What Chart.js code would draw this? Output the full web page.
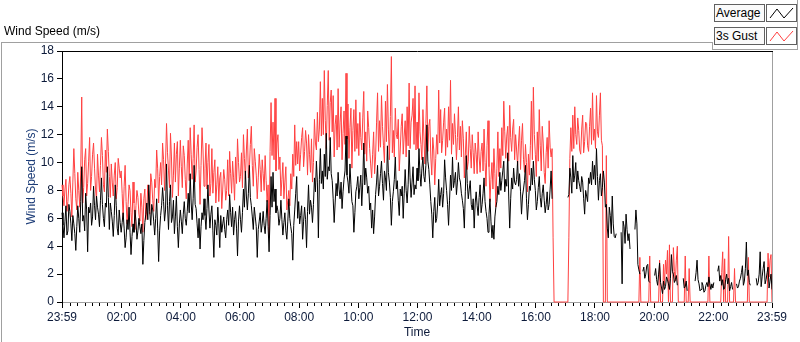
<!DOCTYPE html>
<html>
<head>
<meta charset="utf-8">
<script src="https://cdn.jsdelivr.net/npm/chart.js@4.4.1/dist/chart.umd.min.js"></script>
<style>
  html, body { margin: 0; padding: 0; background: #fff; }
  #wrap { position: relative; width: 800px; height: 342px; overflow: hidden;
          font-family: "Liberation Sans", Arial, sans-serif; color: #000; }
  #chart { position: absolute; left: 0; top: 0; }
  .graph-title { position: absolute; left: 4px; top: 24px; font-size: 12px; }
  .line { position: absolute; background: #a0a0a0; }
  .leg-text { position: absolute; left: 714px; width: 48px; height: 16px; border: 1px solid #606060;
              background: #fafafa; font-size: 12px; line-height: 16px; padding-left: 1px; }
  .leg-icon { position: absolute; left: 766px; width: 29px; height: 16px; border: 1px solid #606060; background: #fff; }
  .leg-icon svg { position: absolute; left: 0; top: 0; }
</style>
</head>
<body>
<div id="wrap">
  <canvas id="chart" width="800" height="342"></canvas>
  <div class="graph-title">Wind Speed (m/s)</div>
  <div class="line" style="left:1px; top:42px; width:711px; height:1px;"></div>
  <div class="line" style="left:1px; top:42px; width:1px; height:300px;"></div>
  <div class="line" style="left:712px; top:42px; width:1px; height:8px;"></div>
  <div class="line" style="left:712px; top:49px; width:86px; height:1px;"></div>
  <div class="line" style="left:797px; top:0px; width:1px; height:50px;"></div>
  <div class="leg-text" style="top:4px;">Average</div>
  <div class="leg-icon" style="top:4px;">
    <svg width="29" height="16"><polyline points="3,13 10,4 17,13 26,3" fill="none" stroke="#000" stroke-width="1"/></svg>
  </div>
  <div class="leg-text" style="top:27px;">3s Gust</div>
  <div class="leg-icon" style="top:27px;">
    <svg width="29" height="16"><polyline points="3,13 10,4 17,13 26,3" fill="none" stroke="#ff4040" stroke-width="1"/></svg>
  </div>
</div>
<script>
(function () {
  'use strict';

  // one sample every 2 minutes, starting at 23:59 (one row = 2 hours)
  var SAMPLE_MINUTES = 2;

  var avgSpeed = [
    6.4,5.5,4.6,5.8,6.9,4.8,5.1,7.0,6.5,5.6,4.4,6.2,5.6,4.9,3.7,5.4,6.9,6.0,5.0,7.2,9.7,5.8,6.2,5.1,7.8,6.6,3.6,6.8,6.4,7.1,
    5.5,6.1,8.3,6.9,5.9,7.6,6.8,6.3,5.4,7.3,8.9,7.0,6.0,5.4,7.1,6.8,9.7,7.5,5.2,7.1,6.5,5.8,4.7,6.2,8.4,6.9,5.3,4.8,6.6,5.7,
    5.0,5.7,6.4,5.3,3.9,4.6,5.9,5.2,6.8,5.0,3.4,4.7,5.6,5.0,6.6,5.8,4.5,5.1,6.0,5.4,4.9,5.6,2.7,4.4,5.7,6.3,7.1,5.9,8.4,6.5,
    5.5,7.0,6.6,5.8,4.8,6.0,7.4,5.3,2.9,5.1,6.2,6.9,8.2,7.2,5.8,6.6,9.9,6.9,5.2,7.2,8.4,5.7,6.1,7.3,4.9,6.1,7.6,5.4,3.9,5.6,
    6.6,5.8,4.9,6.3,7.2,6.0,5.5,6.5,7.8,6.4,9.2,7.1,5.9,7.4,9.8,7.0,6.7,5.6,4.6,6.0,3.8,5.4,6.4,5.9,7.4,6.2,5.2,6.7,8.4,6.6,
    5.3,6.3,6.9,5.1,3.2,5.9,5.5,4.8,6.8,5.6,3.9,6.2,5.0,5.6,6.1,5.2,4.6,5.9,6.6,5.5,7.7,6.4,5.4,6.8,4.8,5.9,6.5,5.3,3.3,5.8,
    6.9,5.9,5.0,6.4,8.1,6.8,9.4,7.6,6.6,7.8,9.8,7.5,6.9,6.1,5.2,6.8,6.1,5.4,3.2,5.2,5.8,6.4,5.0,5.6,6.5,5.5,4.9,6.0,7.3,5.4,
    3.6,6.2,9.0,6.8,9.3,7.2,8.1,6.4,6.9,6.5,5.5,6.0,7.3,5.9,4.8,5.7,6.4,5.1,4.5,5.8,7.4,6.0,5.4,4.9,3.0,5.5,6.6,7.8,9.0,6.0,
    7.2,5.6,6.2,6.9,4.5,5.8,6.8,5.9,3.9,6.5,8.4,6.3,7.3,6.8,5.7,7.0,8.9,7.9,10.1,8.6,4.6,8.8,11.0,8.5,9.4,8.1,10.6,9.0,12.1,8.8,
    9.7,9.4,11.8,9.2,8.7,7.4,5.7,7.1,8.5,7.6,9.3,8.1,7.4,8.6,6.7,7.9,8.8,9.4,11.9,9.1,8.6,7.8,9.9,8.4,7.2,6.9,5.0,6.4,7.9,8.3,
    9.0,7.4,8.2,9.1,6.9,8.6,11.4,8.4,9.6,8.9,7.8,8.3,6.6,7.1,5.3,6.6,4.9,6.1,7.7,8.6,9.8,7.6,8.3,9.2,10.1,8.5,7.3,9.4,8.9,8.0,
    11.2,9.3,8.6,7.5,5.5,7.2,7.9,8.8,10.4,8.1,8.7,7.3,6.2,8.1,7.6,8.3,6.0,7.8,9.5,8.0,7.1,8.4,10.9,8.9,7.5,8.6,9.7,7.7,8.4,8.1,
    9.6,8.7,11.0,9.2,8.3,9.6,10.4,9.0,8.6,9.8,12.7,10.1,9.5,8.4,7.2,6.3,4.6,6.5,7.5,5.7,6.0,7.1,8.8,6.9,7.7,8.2,6.8,7.8,10.2,8.9,
    8.0,7.0,5.5,7.3,9.1,8.0,10.4,8.2,8.7,9.3,7.7,8.6,10.0,8.9,8.6,7.8,7.3,6.7,5.3,7.9,10.5,8.5,7.4,8.1,8.7,7.0,6.6,7.4,5.3,7.1,
    7.9,6.9,6.2,7.5,8.4,6.4,7.0,7.8,8.9,7.2,6.5,6.0,5.0,6.3,7.4,5.8,4.6,5.5,4.5,6.1,6.8,7.2,8.3,7.7,9.3,8.0,8.7,9.4,10.1,7.9,
    8.8,8.3,10.7,7.6,5.3,7.4,8.9,8.1,9.6,8.6,8.4,8.8,10.1,8.3,9.2,7.9,6.3,7.6,8.1,8.7,9.8,7.4,5.9,7.0,8.3,8.0,9.6,8.4,10.1,8.8,
    8.0,6.6,7.2,8.2,9.0,7.5,6.8,7.8,8.4,7.3,6.4,7.0,7.9,6.6,7.0,8.1,9.4,7.4,null,null,null,null,null,null,null,null,null,null,null,null,
    null,null,null,7.5,7.7,9.6,8.9,7.8,10.5,8.6,9.1,10.0,8.1,9.4,8.7,8.3,7.9,9.0,8.6,7.4,6.3,8.0,7.6,7.2,8.9,8.5,9.3,8.4,10.1,8.8,
    9.8,8.4,11.0,9.0,7.3,8.7,9.2,7.6,8.2,9.4,8.6,6.8,7.0,5.3,4.6,6.8,6.2,4.9,7.6,5.6,4.7,4.6,4.9,null,null,null,null,5.0,1.3,5.8,
    5.4,4.2,6.3,5.2,4.4,4.9,3.8,null,null,null,null,5.2,6.6,5.6,2.7,2.3,2.0,null,null,2.2,2.5,1.7,2.0,2.6,2.7,1.5,1.4,null,null,null,
    null,1.9,2.4,1.6,1.2,2.0,2.8,1.4,1.0,0.6,1.5,0.9,1.1,1.8,1.6,1.3,0.9,1.7,3.4,2.2,2.0,1.4,1.6,1.9,1.2,null,null,null,null,null,
    1.7,1.0,1.1,1.5,0.8,null,null,null,null,null,null,null,1.5,2.1,3.0,1.6,1.3,0.8,0.9,1.4,1.2,0.7,0.8,1.2,1.4,1.1,1.8,1.3,0.9,1.3,
    1.0,1.4,null,null,null,2.2,2.6,1.5,1.9,1.2,1.6,0.9,1.0,1.6,2.0,1.3,1.7,0.8,1.1,1.4,0.9,null,null,null,1.3,1.0,1.1,1.5,1.7,2.1,
    2.6,1.2,1.5,2.4,4.3,1.9,2.3,1.4,1.2,null,null,null,null,null,1.7,1.2,1.4,2.0,3.6,1.1,1.8,2.4,2.9,1.3,1.6,2.1,2.5,1.0,1.5,2.0,
    0.9
  ];

  var gustSpeed = [
    8.4,7.6,6.9,8.1,8.8,6.5,7.2,8.4,9.0,7.8,6.1,8.6,11.0,9.2,7.4,6.6,9.3,8.0,6.8,9.4,14.7,7.1,8.2,10.2,11.0,7.6,8.5,10.1,11.8,8.0,
    9.0,10.6,11.4,9.6,8.1,7.3,10.6,9.1,7.9,9.8,11.8,10.5,8.4,7.9,10.9,9.3,12.4,10.8,9.0,7.5,9.9,8.6,7.6,9.1,10.0,7.4,8.2,10.3,9.6,8.9,
    9.4,7.8,6.0,8.3,9.8,7.2,5.6,7.0,8.4,8.0,6.4,5.4,8.6,7.1,5.2,6.9,8.0,7.5,6.3,5.8,7.8,6.8,5.0,7.4,8.1,5.9,6.6,8.4,7.9,6.3,
    9.2,8.6,7.3,6.5,8.8,8.2,10.9,9.6,7.1,9.0,10.0,8.4,11.4,10.2,8.0,9.9,12.8,10.7,9.4,8.2,12.1,10.4,7.5,9.1,11.4,8.6,10.6,11.5,7.6,9.6,
    11.6,9.7,8.2,11.2,10.5,8.8,7.4,9.9,11.6,8.7,12.5,10.6,8.8,10.3,12.7,8.6,9.4,11.1,12.0,9.5,7.0,9.8,12.5,10.9,8.3,9.6,11.4,8.1,10.0,11.3,
    7.6,8.5,11.0,7.8,9.3,10.2,7.1,8.4,9.7,7.2,8.9,9.3,6.7,8.1,9.5,8.8,7.3,8.0,10.2,7.6,10.8,9.2,7.8,10.1,8.9,7.3,10.4,8.5,11.7,10.0,
    8.6,9.0,10.7,8.2,12.0,10.3,8.8,10.9,12.4,8.9,9.6,11.3,12.6,9.8,8.3,11.0,10.1,9.1,7.4,8.9,10.6,9.5,7.9,10.2,9.2,8.0,10.5,8.7,7.2,8.4,
    4.6,10.8,14.3,10.5,12.9,10.2,14.6,9.4,11.4,12.0,9.5,10.4,7.6,8.8,10.0,7.4,8.6,9.7,6.6,7.3,8.0,6.9,9.2,8.1,10.6,9.0,12.7,9.8,11.5,9.9,
    11.5,9.4,10.6,11.8,12.5,9.7,10.8,12.3,11.4,9.1,12.0,10.6,9.3,11.7,8.6,10.0,13.1,11.4,10.9,13.6,11.5,12.4,15.8,11.9,14.6,12.0,16.6,13.0,11.0,14.1,
    16.6,11.6,14.3,15.2,12.2,14.8,10.4,12.7,13.4,10.9,15.3,11.1,12.9,14.0,10.2,12.1,13.7,11.3,16.4,11.7,14.2,10.3,12.5,13.9,9.6,12.3,13.8,10.8,14.5,11.0,
    12.8,10.5,13.6,11.8,10.9,13.2,15.1,10.6,12.2,10.1,13.7,12.5,11.0,9.9,8.9,10.6,12.2,9.2,10.4,12.9,15.0,10.8,13.0,11.1,14.8,12.6,11.2,10.0,14.4,11.5,
    15.6,12.4,10.2,13.3,17.6,10.7,12.3,10.4,13.9,12.0,11.7,13.1,9.4,10.9,12.6,13.5,10.6,11.9,13.0,10.4,14.0,11.2,15.7,11.0,12.9,13.4,14.6,11.3,15.5,10.9,
    12.9,11.0,15.0,12.2,11.3,10.2,13.8,11.9,9.9,12.8,15.5,10.8,12.6,13.1,10.4,9.1,11.8,10.9,8.4,10.3,12.0,10.6,15.2,11.4,13.8,10.7,11.6,12.9,13.9,10.5,
    12.4,11.1,14.0,11.6,15.9,10.6,12.8,11.3,13.5,12.0,10.2,11.8,14.0,10.9,12.6,10.4,13.0,11.7,8.9,10.5,12.2,9.5,10.1,12.6,11.0,9.6,12.0,10.7,9.2,11.4,
    10.6,9.2,12.2,10.4,9.3,10.8,11.4,9.4,12.4,10.0,8.3,11.2,13.0,9.7,7.2,8.8,10.0,8.1,11.0,9.2,6.8,9.6,12.2,9.0,11.0,9.6,12.5,10.5,14.4,12.2,
    10.3,11.9,12.6,10.1,14.1,11.8,10.8,12.4,13.1,10.2,12.0,10.9,9.8,11.4,12.6,9.5,11.6,12.8,10.2,9.3,11.3,10.0,7.9,10.6,9.1,11.2,14.4,10.2,15.4,12.0,
    10.6,9.0,12.2,10.1,13.8,11.2,9.4,12.6,11.4,9.3,8.5,10.7,11.8,9.6,13.0,11.1,10.4,11.0,4.6,0,0,0,0,0,0,0,0,0,0,0,
    0,0,0,0,4.6,10.3,12.5,10.8,13.4,11.0,14.0,12.0,11.3,13.2,12.3,10.9,10.6,12.4,13.4,10.7,11.5,12.9,12.8,11.2,10.8,12.6,13.9,11.3,15.0,11.6,
    12.4,11.0,14.8,12.2,11.8,13.4,15.0,11.6,11.2,0,0,0,10.5,0,0,0,0,0,0,0,0,0,0,0,0,0,0,0,0,0,
    0,0,0,0,0,0,0,0,0,0,0,0,0,0,0,0,3.2,0,0,0,0,0,0,0,0,0,3.3,0,0,0,
    0,0,0,0,0,0,3.0,0,0,0,2.7,1.2,3.0,2.0,3.7,0,4.1,0,0,0,3.9,2.2,1.5,3.0,4.0,0,0,0,0,0,
    0,0,3.3,0,0,0,2.4,0,0,0,0,0,0,0,0,0,0,0,0,0,0,0,0,0,0,0,3.3,0,0,0,
    0,0,0,0,0,0,0,0,0,2.1,3.6,0,3.1,0,0,0,4.7,0,0,0,0,0,2.4,0,0,0,0,0,0,0,
    0,0,0,0,0,0,3.2,0,0,0,0,0,0,0,0,0,0,0,0,0,0,0,0,0,0,0,3.5,1.8,3.0,3.4,
    0
  ];

  // minutes after 23:59 of the previous day
  var xTickMinutes = [0, 121, 241, 361, 481, 601, 721, 841, 961, 1081, 1201, 1321, 1440];
  var xTickLabels = ['23:59', '02:00', '04:00', '06:00', '08:00', '10:00', '12:00',
                     '14:00', '16:00', '18:00', '20:00', '22:00', '23:59'];
  var yTickValues = [0, 2, 4, 6, 8, 10, 12, 14, 16, 18];

  // minor ticks every 15 minutes between the major ones
  var minorTickMinutes = [];
  for (var k = 1; k < 96; k++) {
    if (k % 8 !== 0) minorTickMinutes.push(1 + 15 * k);
  }

  function toPoints(arr) {
    return arr.map(function (v, i) { return { x: i * SAMPLE_MINUTES, y: v }; });
  }

  Chart.defaults.font.family = '"Liberation Sans", Arial, sans-serif';
  Chart.defaults.font.size = 12;

  var plotFrame = {
    id: 'plotFrame',
    afterDraw: function (chart) {
      var a = chart.chartArea;
      var ctx = chart.ctx;
      var xs = chart.scales.x;
      ctx.save();
      ctx.lineWidth = 1;
      ctx.strokeStyle = '#000';
      ctx.beginPath();
      ctx.moveTo(a.left, Math.round(a.top) + 0.5);
      ctx.lineTo(a.right + 1, Math.round(a.top) + 0.5);
      ctx.stroke();
      ctx.strokeStyle = '#a0a0a0';
      ctx.beginPath();
      ctx.moveTo(Math.round(a.right) + 0.5, a.top + 1);
      ctx.lineTo(Math.round(a.right) + 0.5, a.bottom);
      ctx.stroke();
      ctx.strokeStyle = '#000';
      ctx.beginPath();
      minorTickMinutes.forEach(function (m) {
        var px = Math.round(xs.getPixelForValue(m)) + 0.5;
        ctx.moveTo(px, a.bottom + 1);
        ctx.lineTo(px, a.bottom + 4);
      });
      ctx.stroke();
      ctx.restore();
    }
  };

  var ctx = document.getElementById('chart').getContext('2d');
  new Chart(ctx, {
    type: 'line',
    data: {
      datasets: [
        {
          label: 'Average',
          data: toPoints(avgSpeed),
          borderColor: '#000',
          borderWidth: 1,
          pointRadius: 0,
          tension: 0,
          spanGaps: false,
          order: 0,
          clip: 4
        },
        {
          label: '3s Gust',
          data: toPoints(gustSpeed),
          borderColor: '#ff4040',
          borderWidth: 1,
          pointRadius: 0,
          tension: 0,
          order: 1,
          clip: 4
        }
      ]
    },
    options: {
      responsive: false,
      animation: false,
      layout: { padding: { top: 51, right: 28, left: 0, bottom: 0 } },
      plugins: { legend: { display: false }, tooltip: { enabled: false } },
      scales: {
        x: {
          type: 'linear',
          min: 0,
          max: 1440,
          afterBuildTicks: function (s) {
            s.ticks = xTickMinutes.map(function (v) { return { value: v }; });
          },
          afterFit: function (s) { s.height = 40; },
          grid: { drawOnChartArea: false, drawTicks: true, tickLength: 6, tickColor: '#000' },
          border: { display: true, color: '#a0a0a0' },
          ticks: {
            autoSkip: false,
            maxRotation: 0,
            padding: 2,
            color: '#0c1a3a',
            font: { size: 12 },
            callback: function (v, i) { return xTickLabels[i]; }
          },
          title: { display: true, text: 'Time', color: '#0c1a3a', font: { size: 12 }, padding: { top: 0, bottom: 2 } }
        },
        y: {
          min: 0,
          max: 18,
          afterBuildTicks: function (s) {
            s.ticks = yTickValues.map(function (v) { return { value: v }; });
          },
          afterFit: function (s) { s.width = 62; },
          grid: { drawOnChartArea: false, drawTicks: true, tickLength: 5, tickColor: '#000' },
          border: { display: true, color: '#000' },
          ticks: { padding: 3, color: '#0c1a3a', font: { size: 12 } },
          title: { display: true, text: 'Wind Speed (m/s)', color: '#1d3d78', font: { size: 12 }, padding: { top: 24, bottom: 0 } }
        }
      }
    },
    plugins: [plotFrame]
  });
})();
</script>
</body>
</html>
